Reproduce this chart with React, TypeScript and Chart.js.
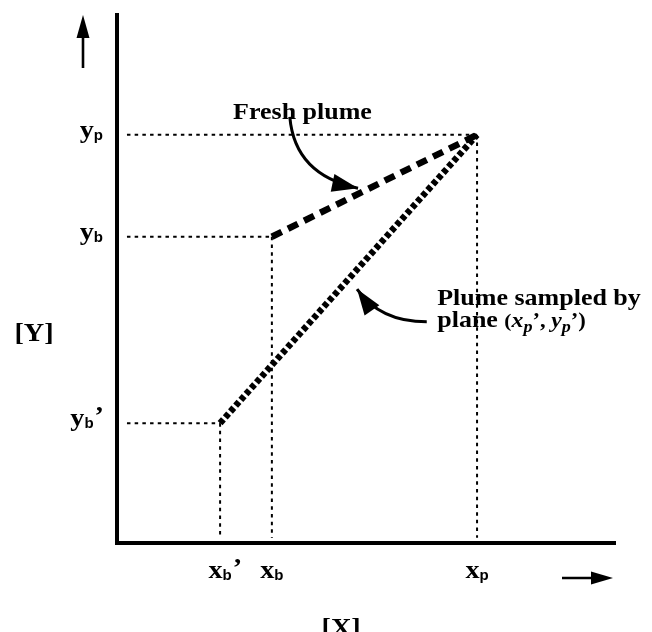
import React, { useEffect, useRef } from "react";
import { Chart, registerables } from "chart.js";

Chart.register(...registerables);

// Key positions on the [X] / [Y] axes (data units 0..100)
const xTickValues = [20.7, 31.1, 72.3]; // x_b', x_b, x_p
const xTickSubs = ["b", "b", "p"];
const xTickPrimes = [true, false, false];

const yTickValues = [22.7, 58.0, 77.3]; // y_b', y_b, y_p
const yTickSubs = ["b", "b", "p"];
const yTickPrimes = [true, false, false];

// Mixing lines
const freshPlumeX = [31.1, 72.3];
const freshPlumeY = [58.0, 77.3];
const sampledPlumeX = [20.7, 72.3];
const sampledPlumeY = [22.7, 77.3];

// Guide lines: points (x_i, y_i) projected to the axes
const guidePointX = [20.7, 31.1, 72.3];
const guidePointY = [22.7, 58.0, 77.3];
const guideStartX = 2;
const guideEndY = 1;

const SERIF = '"Liberation Serif", "DejaVu Serif", serif';
const SANS = '"Liberation Sans", "DejaVu Sans", sans-serif';
const SX = 1.13;

function serifText(ctx: CanvasRenderingContext2D, text: string, x: number, y: number, size: number, italic = false) {
  ctx.save();
  ctx.font = `${italic ? "italic " : ""}bold ${size}px ${SERIF}`;
  ctx.translate(x, y);
  ctx.scale(SX, 1);
  ctx.fillText(text, 0, 0);
  const w = ctx.measureText(text).width * SX;
  ctx.restore();
  return w;
}
function serifWidth(ctx: CanvasRenderingContext2D, text: string, size: number, italic = false) {
  ctx.save();
  ctx.font = `${italic ? "italic " : ""}bold ${size}px ${SERIF}`;
  const w = ctx.measureText(text).width * SX;
  ctx.restore();
  return w;
}
function sansText(ctx: CanvasRenderingContext2D, text: string, x: number, y: number, size: number) {
  ctx.save();
  ctx.font = `bold ${size}px ${SANS}`;
  ctx.fillText(text, x, y);
  const w = ctx.measureText(text).width;
  ctx.restore();
  return w;
}
function sansWidth(ctx: CanvasRenderingContext2D, text: string, size: number) {
  ctx.save();
  ctx.font = `bold ${size}px ${SANS}`;
  const w = ctx.measureText(text).width;
  ctx.restore();
  return w;
}

function subLabel(
  ctx: CanvasRenderingContext2D,
  main: string,
  sub: string,
  prime: boolean,
  x: number,
  baseline: number,
  align: "right" | "center"
) {
  const ms = 25;
  const ss = 15;
  const mw = serifWidth(ctx, main, ms);
  const sw = sansWidth(ctx, sub, ss);
  const pw = prime ? serifWidth(ctx, "\u2019", ms) : 0;
  let start = align === "right" ? x - (mw + sw + pw) : x - (mw + sw) / 2;
  serifText(ctx, main, start, baseline, ms);
  sansText(ctx, sub, start + mw, baseline + 2, ss);
  if (prime) serifText(ctx, "\u2019", start + mw + sw + 1, baseline - 2, ms);
}

function arrowHead(ctx: CanvasRenderingContext2D, tipX: number, tipY: number, dx: number, dy: number, len: number, halfW: number) {
  const m = Math.hypot(dx, dy);
  const ux = dx / m;
  const uy = dy / m;
  const bx = tipX - ux * len;
  const by = tipY - uy * len;
  ctx.beginPath();
  ctx.moveTo(tipX, tipY);
  ctx.lineTo(bx - uy * halfW, by + ux * halfW);
  ctx.lineTo(bx + uy * halfW, by - ux * halfW);
  ctx.closePath();
  ctx.fill();
}

function curvedArrow(
  ctx: CanvasRenderingContext2D,
  s: [number, number],
  c: [number, number],
  e: [number, number]
) {
  ctx.beginPath();
  ctx.lineWidth = 3;
  ctx.moveTo(s[0], s[1]);
  ctx.quadraticCurveTo(c[0], c[1], e[0], e[1]);
  ctx.stroke();
  arrowHead(ctx, e[0], e[1], e[0] - c[0], e[1] - c[1], 26, 9);
}

const annotationPlugin = {
  id: "schematicAnnotations",
  afterDraw(chart: any) {
    const ctx: CanvasRenderingContext2D = chart.ctx;
    const xs = chart.scales.x;
    const ys = chart.scales.y;
    const px = (v: number) => xs.getPixelForValue(v);
    const py = (v: number) => ys.getPixelForValue(v);
    const area = chart.chartArea;
    ctx.save();
    ctx.fillStyle = "#000";
    ctx.strokeStyle = "#000";
    ctx.textBaseline = "alphabetic";
    ctx.textAlign = "left";

    // y labels
    yTickValues.forEach((v, i) => {
      subLabel(ctx, "y", yTickSubs[i], yTickPrimes[i], area.left - 14, py(v) + 3, "right");
    });
    // x labels
    xTickValues.forEach((v, i) => {
      subLabel(ctx, "x", xTickSubs[i], xTickPrimes[i], px(v), area.bottom + 35, "center");
    });

    // axis titles
    const yw = serifWidth(ctx, "[Y]", 25);
    serifText(ctx, "[Y]", area.left - 83 - yw / 2, py(50) + 62, 25);
    const xw = serifWidth(ctx, "[X]", 25);
    serifText(ctx, "[X]", px(45) - xw / 2, area.bottom + 93, 25);

    // axis direction arrows
    ctx.lineWidth = 2.6;
    const ax = area.left - 34;
    ctx.beginPath();
    ctx.moveTo(ax, area.top + 53);
    ctx.lineTo(ax, area.top + 18);
    ctx.stroke();
    arrowHead(ctx, ax, area.top, 0, -1, 23, 6.5);
    const ay = area.bottom + 35;
    ctx.beginPath();
    ctx.moveTo(area.right - 53, ay);
    ctx.lineTo(area.right - 18, ay);
    ctx.stroke();
    arrowHead(ctx, area.right - 2, ay, 1, 0, 22, 6.5);

    // text annotations
    serifText(ctx, "Fresh plume", px(23.3), py(80.3), 23);
    serifText(ctx, "Plume sampled by", px(64.3), py(45.1), 23);
    let tx = px(64.3);
    const ty = py(40.9);
    tx += serifText(ctx, "plane ", tx, ty, 23);
    tx += serifText(ctx, "(", tx, ty, 19);
    tx += serifText(ctx, "x", tx, ty, 21, true);
    tx += serifText(ctx, "p", tx, ty + 5, 16, true);
    tx += serifText(ctx, "\u2019, ", tx, ty, 20);
    tx += serifText(ctx, "y", tx, ty, 21, true);
    tx += serifText(ctx, "p", tx, ty + 5, 16, true);
    tx += serifText(ctx, "\u2019)", tx, ty, 20);

    // curved arrows
    curvedArrow(ctx, [px(34.7), py(80.7)], [px(35.7), py(69.7)], [px(48.4), py(67.2)]);
    curvedArrow(ctx, [px(62.2), py(41.9)], [px(52.8), py(41.9)], [px(48.2), py(48.1)]);

    ctx.restore();
  },
};

export default function App() {
  const ref = useRef<HTMLCanvasElement | null>(null);

  useEffect(() => {
    if (!ref.current) return;
    const line = (xsA: number[], ysA: number[]) => xsA.map((x, i) => ({ x, y: ysA[i] }));
    const guides: any[] = [];
    guidePointX.forEach((x, i) => {
      const y = guidePointY[i];
      guides.push({
        data: [
          { x: guideStartX, y },
          { x, y },
        ],
        showLine: true,
        borderColor: "#000",
        borderWidth: 2,
        borderDash: [3.5, 4.2],
        pointRadius: 0,
      });
      guides.push({
        data: [
          { x, y },
          { x, y: guideEndY },
        ],
        showLine: true,
        borderColor: "#000",
        borderWidth: 2,
        borderDash: [3.5, 4.2],
        pointRadius: 0,
      });
    });

    const chart = new Chart(ref.current, {
      type: "scatter",
      data: {
        datasets: [
          ...guides,
          {
            label: "Fresh plume",
            data: line(freshPlumeX, freshPlumeY),
            showLine: true,
            borderColor: "#000",
            borderWidth: 6.5,
            borderDash: [11, 7],
            pointRadius: 0,
          },
          {
            label: "Plume sampled by plane",
            data: line(sampledPlumeX, sampledPlumeY),
            showLine: true,
            borderColor: "#000",
            borderWidth: 6.5,
            borderDash: [5, 2.8],
            pointRadius: 0,
          },
        ],
      },
      options: {
        responsive: false,
        animation: false,
        devicePixelRatio: 1,
        layout: { padding: { left: 117, top: 15, right: 37, bottom: 89 } },
        plugins: {
          legend: { display: false },
          tooltip: { enabled: false },
        },
        scales: {
          x: {
            type: "linear",
            min: 0,
            max: 100,
            grid: { display: false, drawTicks: false },
            ticks: { display: false },
            border: { display: true, width: 4, color: "#000" },
          },
          y: {
            type: "linear",
            min: 0,
            max: 100,
            grid: { display: false, drawTicks: false },
            ticks: { display: false },
            border: { display: true, width: 4, color: "#000" },
          },
        },
      },
      plugins: [annotationPlugin],
    } as any);
    return () => chart.destroy();
  }, []);

  return (
    <div style={{ position: "fixed", left: 0, top: 0, width: 652, height: 632, background: "#fff" }}>
      <canvas ref={ref} width={652} height={632} style={{ display: "block" }} />
    </div>
  );
}
